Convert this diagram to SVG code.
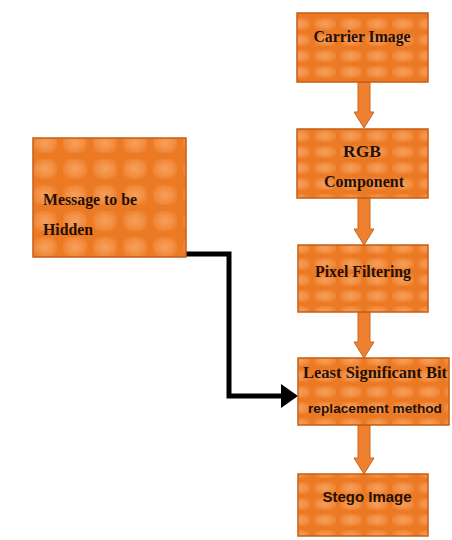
<svg xmlns="http://www.w3.org/2000/svg" width="452" height="540" viewBox="0 0 452 540">
<style>
.box{fill:url(#tex);stroke:#C45E16;stroke-width:1.5}
.t{font-family:"Liberation Serif",serif;font-weight:bold;font-size:16px;fill:#241006}
.s{font-family:"Liberation Sans",sans-serif;font-weight:bold;font-size:15px;fill:#241006}
.oa{fill:#EE8030;stroke:#C8641E;stroke-width:1}
.conn{fill:none;stroke:#000;stroke-width:5}
</style>
<defs>
<radialGradient id="cell" cx="0.5" cy="0.5" r="0.6">
<stop offset="0" stop-color="#F5A05C"/>
<stop offset="0.6" stop-color="#F28E42"/>
<stop offset="1" stop-color="#EC7C26"/>
</radialGradient>
<pattern id="tex" width="26" height="16" patternUnits="userSpaceOnUse">
<rect width="26" height="16" fill="#EC7A24"/>
<rect x="2" y="2" width="22" height="12" rx="4" fill="url(#cell)"/>
</pattern>
<pattern id="tex2" width="30" height="26" patternUnits="userSpaceOnUse">
<rect width="30" height="26" fill="#EC7A24"/>
<rect x="3" y="3" width="24" height="20" rx="6" fill="url(#cell)"/>
</pattern>
</defs>
<g id="connectors">
<path class="oa" d="M358,82 H370 V112 H374 L364,128 L354,112 H358 Z"/>
<path class="oa" d="M358,198 H370 V229 H374 L364,245 L354,229 H358 Z"/>
<path class="oa" d="M358,312 H370 V342 H374 L364,358 L354,342 H358 Z"/>
<path class="oa" d="M358,425 H370 V458 H374 L364,474 L354,458 H358 Z"/>
<path class="conn" d="M158,254 H229 V396 H284"/>
<path d="M281,384 L298,396 L281,408 Z" fill="#000"/>
</g>
<g id="carrier">
<rect class="box" x="297" y="13" width="131" height="69"/>
<text class="t" x="362" y="42" text-anchor="middle" textLength="97" lengthAdjust="spacingAndGlyphs">Carrier Image</text>
</g>
<g id="rgb">
<rect class="box" x="297" y="129" width="131" height="69"/>
<text class="t" x="362" y="157" text-anchor="middle" textLength="38" lengthAdjust="spacingAndGlyphs">RGB</text>
<text class="t" x="364" y="187" text-anchor="middle" textLength="80" lengthAdjust="spacingAndGlyphs">Component</text>
</g>
<g id="pixel">
<rect class="box" x="298" y="245" width="130" height="67"/>
<text class="t" x="363" y="277" text-anchor="middle" textLength="96" lengthAdjust="spacingAndGlyphs">Pixel Filtering</text>
</g>
<g id="lsb">
<rect class="box" x="298" y="358" width="151" height="67"/>
<text class="t" x="375" y="378" text-anchor="middle" textLength="144" lengthAdjust="spacingAndGlyphs">Least Significant Bit</text>
<text class="s" x="375" y="413" text-anchor="middle" style="font-size:13.5px" textLength="134" lengthAdjust="spacingAndGlyphs">replacement method</text>
</g>
<g id="stego">
<rect class="box" x="298" y="474" width="130" height="62"/>
<text class="s" x="367" y="502" text-anchor="middle" textLength="89" lengthAdjust="spacingAndGlyphs">Stego Image</text>
</g>
<g id="message">
<rect class="box" x="33" y="138" width="153" height="119" style="fill:url(#tex2)"/>
<text class="t" x="43" y="205" textLength="94" lengthAdjust="spacingAndGlyphs">Message to be</text>
<text class="t" x="43" y="235" textLength="50" lengthAdjust="spacingAndGlyphs">Hidden</text>
</g>
</svg>
